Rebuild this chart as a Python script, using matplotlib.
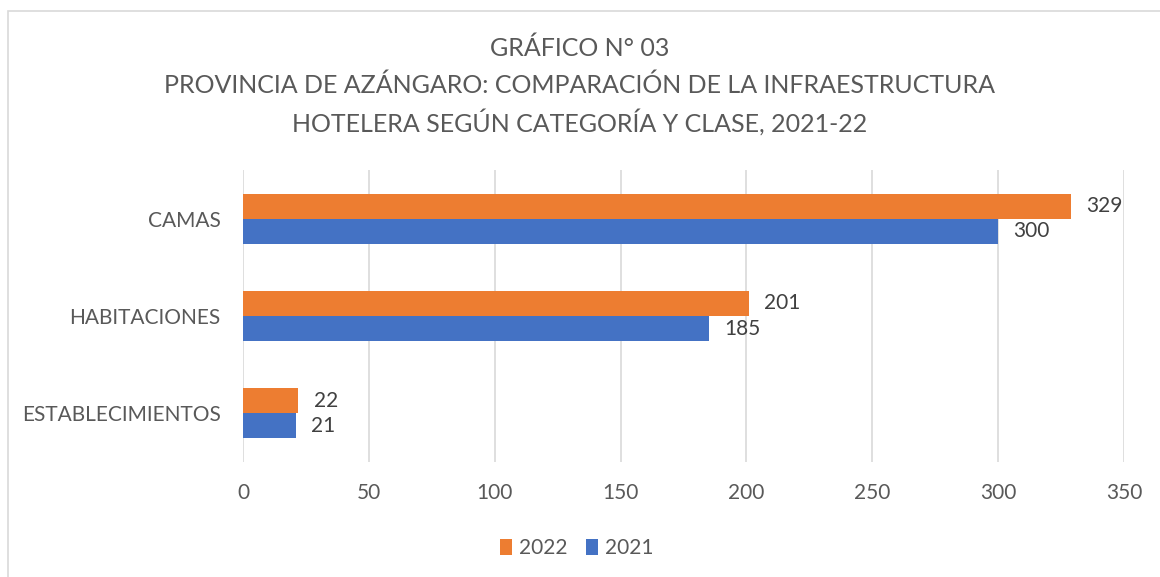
import numpy as np
import matplotlib
matplotlib.use("Agg")
import matplotlib.pyplot as plt
from matplotlib.patches import Rectangle

# ── Data ─────────────────────────────────────────────────────────────────────
categorias = ["ESTABLECIMIENTOS", "HABITACIONES", "CAMAS"]
valores_2022 = [22, 201, 329]
valores_2021 = [21, 185, 300]
ticks_x = [0, 50, 100, 150, 200, 250, 300, 350]

# ── Style ────────────────────────────────────────────────────────────────────
plt.rcParams["font.family"] = ["Lato", "DejaVu Sans"]
TEXT = "#595959"
ORANGE = "#ED7D31"
BLUE = "#4472C4"
GRID = "#D9D9D9"

fig = plt.figure(figsize=(11.6, 5.77), dpi=100)
ax = fig.add_axes([0.2095, 0.1993, 0.7595, 0.5061])

y = np.arange(len(categorias))
h = 0.257
ax.barh(y + h / 2, valores_2022, height=h, color=ORANGE, label="2022", zorder=3)
ax.barh(y - h / 2, valores_2021, height=h, color=BLUE, label="2021", zorder=3)

for yi, v in zip(y, valores_2022):
    ax.text(v + 6, yi + h / 2, str(v), va="center", ha="left", fontsize=15, color="#404040")
for yi, v in zip(y, valores_2021):
    ax.text(v + 6, yi - h / 2, str(v), va="center", ha="left", fontsize=15, color="#404040")

ax.set_xlim(0, 350)
ax.set_ylim(-0.5, 2.5)
ax.set_xticks(ticks_x)
ax.set_xticklabels([str(t) for t in ticks_x], fontsize=15, color=TEXT)
ax.set_yticks(y)
ax.set_yticklabels(categorias, fontsize=15, color=TEXT)
ax.tick_params(axis="both", length=0)
ax.tick_params(axis="x", pad=15)
ax.tick_params(axis="y", pad=16)
ax.grid(axis="x", color=GRID, linewidth=1.2, zorder=0)
for s in ax.spines.values():
    s.set_visible(False)

fig.text(0.5, 0.916, "GRÁFICO N° 03", ha="center", va="center", fontsize=18, color=TEXT)
fig.text(0.5, 0.852, "PROVINCIA DE AZÁNGARO: COMPARACIÓN DE LA INFRAESTRUCTURA",
         ha="center", va="center", fontsize=18, color=TEXT)
fig.text(0.5, 0.788, "HOTELERA SEGÚN CATEGORÍA Y CLASE, 2021-22",
         ha="center", va="center", fontsize=18, color=TEXT)

leg = fig.legend(loc="center", bbox_to_anchor=(0.497, 0.05), ncol=2, frameon=False,
                 fontsize=15, handlelength=0.6, handleheight=0.8, handletextpad=0.3,
                 columnspacing=0.9)
for t in leg.get_texts():
    t.set_color(TEXT)

# chart area border
fig.patches.append(Rectangle((8 / 1160, -0.1), 1.2, 1 - 11 / 577 + 0.1,
                             transform=fig.transFigure, fill=False,
                             edgecolor=GRID, linewidth=1.2))

fig.savefig("out.png", dpi=100)
